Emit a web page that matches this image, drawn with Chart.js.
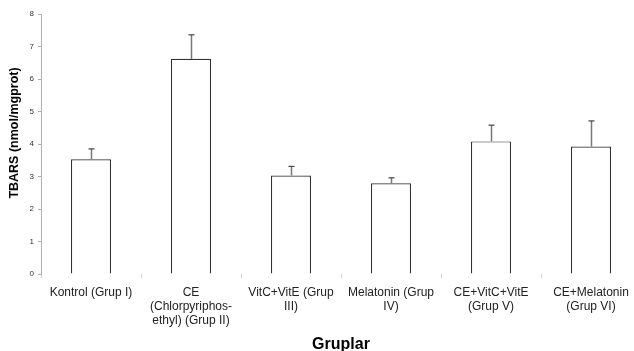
<!DOCTYPE html>
<html>
<head>
<meta charset="utf-8">
<script src="https://cdn.jsdelivr.net/npm/chart.js@4/dist/chart.umd.min.js"></script>
<style>
  html, body { margin: 0; padding: 0; background: #fff; overflow: hidden; }
  #wrap { width: 650px; height: 351px; position: relative; }
</style>
</head>
<body>
<div id="wrap"><canvas id="c"></canvas></div>
<script>
const categories = [
  ["Kontrol (Grup I)"],
  ["CE", "(Chlorpyriphos-", "ethyl) (Grup II)"],
  ["VitC+VitE (Grup", "III)"],
  ["Melatonin (Grup", "IV)"],
  ["CE+VitC+VitE", "(Grup V)"],
  ["CE+Melatonin", "(Grup VI)"]
];
const means = [3.53, 6.62, 3.03, 2.79, 4.08, 3.92];
const errors = [0.32, 0.74, 0.28, 0.17, 0.50, 0.79];
const yTickValues = [0, 1, 2, 3, 4, 5, 6, 7, 8];
const yTitle = "TBARS (nmol/mgprot)";
const xTitle = "Gruplar";

const errorBarPlugin = {
  id: 'errorBars',
  afterDatasetsDraw(chart) {
    const meta = chart.getDatasetMeta(0);
    const yScale = chart.scales.y;
    const ctx = chart.ctx;
    ctx.save();
    meta.data.forEach((bar, i) => {
      const x = Math.round(bar.x) + 0.5;
      const yBase = bar.y;
      const yTop = yScale.getPixelForValue(means[i] + errors[i]);
      ctx.strokeStyle = '#777';
      ctx.lineWidth = 1.5;
      ctx.beginPath();
      ctx.moveTo(x, yBase);
      ctx.lineTo(x, yTop);
      ctx.stroke();
      ctx.strokeStyle = '#444';
      ctx.lineWidth = 1.2;
      ctx.beginPath();
      ctx.moveTo(x - 3, yTop);
      ctx.lineTo(x + 3, yTop);
      ctx.stroke();
    });
    ctx.restore();
  }
};

// y-axis title drawn slightly above the axis centre, as in the reference
const yTitlePlugin = {
  id: 'yTitle',
  afterDraw(chart) {
    const ctx = chart.ctx;
    const area = chart.chartArea;
    ctx.save();
    ctx.translate(15, (area.top + area.bottom) / 2 - 11);
    ctx.rotate(-Math.PI / 2);
    ctx.font = 'bold 12.5px "Liberation Sans", Arial, sans-serif';
    ctx.fillStyle = '#000';
    ctx.textAlign = 'center';
    ctx.textBaseline = 'middle';
    ctx.fillText(yTitle, 0, 0);
    ctx.restore();
  }
};

new Chart(document.getElementById('c'), {
  type: 'bar',
  data: {
    labels: categories,
    datasets: [{
      data: means,
      backgroundColor: '#ffffff',
      borderColor: '#333',
      borderWidth: 1.2,
      borderSkipped: 'start',
      categoryPercentage: 1.0,
      barPercentage: 0.4
    }]
  },
  options: {
    responsive: true,
    maintainAspectRatio: false,
    animation: false,
    layout: { padding: { top: 14, right: 9, left: 0, bottom: 0 } },
    plugins: { legend: { display: false }, tooltip: { enabled: false } },
    scales: {
      x: {
        afterFit(scale) { scale.height = 77; },
        border: { display: false },
        grid: { offset: true, drawOnChartArea: false, drawTicks: true, tickLength: 4, color: '#d0d0d0' },
        ticks: {
          padding: 8,
          maxRotation: 0,
          autoSkip: false,
          color: '#222',
          font: { family: 'Liberation Sans, Arial, sans-serif', size: 12, lineHeight: 1.17 }
        },
        title: {
          display: true,
          text: xTitle,
          color: '#000',
          padding: { top: 0, bottom: 0 },
          font: { family: 'Liberation Sans, Arial, sans-serif', size: 16, weight: 'bold', lineHeight: 0.75 }
        }
      },
      y: {
        min: 0,
        max: 8,
        afterFit(scale) { scale.width = 41; },
        afterBuildTicks(scale) { scale.ticks = yTickValues.map(v => ({ value: v })); },
        border: { display: true, color: '#b0b0b0', width: 1 },
        grid: { drawOnChartArea: false, drawTicks: true, tickLength: 3, color: '#b0b0b0' },
        ticks: {
          padding: 4,
          color: '#333',
          font: { family: 'Liberation Sans, Arial, sans-serif', size: 8 }
        },
        title: { display: false }
      }
    }
  },
  plugins: [errorBarPlugin, yTitlePlugin]
});
</script>
</body>
</html>
